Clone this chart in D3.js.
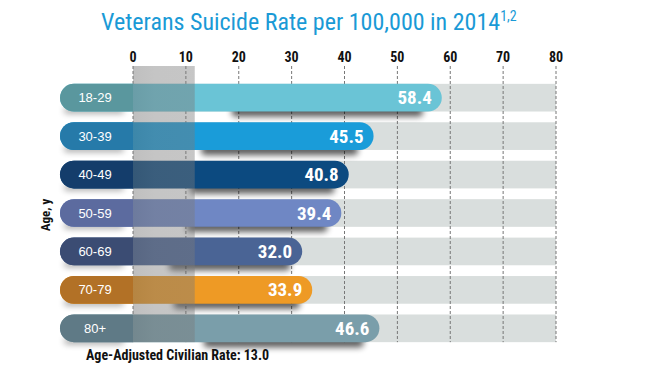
<!DOCTYPE html>
<html lang="en">
<head>
<meta charset="UTF-8">
<title>Veterans Suicide Rate</title>
<script src="https://d3js.org/d3.v7.min.js"></script>
<style>
  body { margin: 0; background: #fff; }
  .cond { font-family: "Liberation Sans Narrow", "Roboto Condensed", "DejaVu Sans Condensed", "Arial Narrow", sans-serif; font-stretch: condensed; }
  .plain { font-family: "Liberation Sans", Arial, sans-serif; }
</style>
</head>
<body>
<svg width="645" height="387"></svg>
<script>
  // data
  const ageGroups = ["18-29", "30-39", "40-49", "50-59", "60-69", "70-79", "80+"];
  const rates = [58.4, 45.5, 40.8, 39.4, 32.0, 33.9, 46.6];
  const barColors = ["#6ac4d6", "#1a9cd9", "#0c4a80", "#6f87c4", "#4a6495", "#ee9a25", "#7a9eaa"];
  const leftColors = ["#5a979e", "#267aa9", "#143d6b", "#5c6b9f", "#3b4c73", "#b27126", "#5f7a86"];
  const xTicks = [0, 10, 20, 30, 40, 50, 60, 70, 80];
  const civilianRate = 13.0;

  const svg = d3.select("svg");
  const defs = svg.append("defs");

  defs.append("filter").attr("id", "blur").attr("x", "-20%").attr("y", "-100%").attr("width", "140%").attr("height", "300%")
    .append("feGaussianBlur").attr("stdDeviation", 3);

  const x = d3.scaleLinear().domain([0, 80]).range([133, 556]);
  const y = d3.scaleBand().domain(ageGroups).range([80, 346]).paddingInner(0.28).paddingOuter(0.1);
  const rowLeft = 60;
  const r = y.bandwidth() / 2;

  // title
  const title = svg.append("text").attr("class", "cond")
    .attr("x", 101).attr("y", 30)
    .attr("fill", "#1a9ad6").style("font-size", "24px");
  title.append("tspan").text("Veterans Suicide Rate per 100,000 in 2014");
  title.append("tspan").attr("dy", -9).style("font-size", "14px").text("1,2");

  // grey row backgrounds
  svg.selectAll(".row").data(ageGroups).enter().append("rect")
    .attr("x", rowLeft + r).attr("y", d => y(d))
    .attr("width", x(80) - rowLeft - r).attr("height", y.bandwidth())
    .attr("fill", "#d9dedd");

  // grid lines
  svg.selectAll(".grid").data(xTicks).enter().append("line")
    .attr("x1", d => x(d)).attr("x2", d => x(d))
    .attr("y1", 66).attr("y2", y(ageGroups[6]) + y.bandwidth())
    .attr("stroke", "#777").attr("stroke-width", 1).attr("stroke-dasharray", "3,2");

  // tick labels
  svg.selectAll(".tick").data(xTicks).enter().append("text")
    .attr("class", "cond")
    .attr("x", d => x(d)).attr("y", 62)
    .attr("text-anchor", "middle").style("font-size", "14px").style("font-weight", "bold")
    .attr("fill", "#111").text(d => d);

  const data = ageGroups.map((g, i) => ({ g, v: rates[i], c: barColors[i], lc: leftColors[i] }));

  // shadows
  svg.selectAll(".shadow").data(data).enter().append("rect")
    .attr("x", d => rowLeft + (x(d.v) - rowLeft) * 0.45)
    .attr("y", d => y(d.g) + y.bandwidth() - 5)
    .attr("width", d => (x(d.v) - rowLeft) * 0.5)
    .attr("height", 10).attr("rx", 4)
    .attr("fill", "#000").attr("opacity", 0.65)
    .attr("filter", "url(#blur)");
  svg.selectAll(".shadow2").data(data).enter().append("rect")
    .attr("x", rowLeft + 4)
    .attr("y", d => y(d.g) + y.bandwidth() - 4)
    .attr("width", 60)
    .attr("height", 6).attr("rx", 3)
    .attr("fill", "#000").attr("opacity", 0.35)
    .attr("filter", "url(#blur)");

  // bars
  svg.selectAll(".bar").data(data).enter().append("rect")
    .attr("x", rowLeft).attr("y", d => y(d.g))
    .attr("width", d => x(d.v) - rowLeft).attr("height", y.bandwidth())
    .attr("rx", r).attr("fill", d => d.c);

  // darker left caps
  svg.selectAll(".cap").data(data).enter().append("path")
    .attr("d", d => {
      const top = y(d.g), h = y.bandwidth(), x0 = x(0);
      return `M${x0},${top} H${rowLeft + r} A${r},${r} 0 0 0 ${rowLeft},${top + r} V${top + h - r} A${r},${r} 0 0 0 ${rowLeft + r},${top + h} H${x0} Z`;
    })
    .attr("fill", d => d.lc);

  // civilian rate column overlay
  const colGrad = defs.append("linearGradient").attr("id", "colGrad");
  colGrad.append("stop").attr("offset", "0%").attr("stop-color", "#6a6a6a");
  colGrad.append("stop").attr("offset", "35%").attr("stop-color", "#787878");
  colGrad.append("stop").attr("offset", "100%").attr("stop-color", "#7a7a7a");
  svg.append("rect")
    .attr("x", x(0)).attr("y", 66)
    .attr("width", x(civilianRate) - x(0) - 7)
    .attr("height", y(ageGroups[6]) + y.bandwidth() - 66)
    .attr("fill", "url(#colGrad)").attr("opacity", 0.43);

  // category labels
  svg.selectAll(".cat").data(data).enter().append("text")
    .attr("class", "plain")
    .attr("x", 95).attr("y", d => y(d.g) + y.bandwidth() / 2 + 4.5)
    .attr("text-anchor", "middle").style("font-size", "13px")
    .attr("fill", "#fff").text(d => d.g);

  // value labels
  svg.selectAll(".val").data(data).enter().append("text")
    .attr("class", "cond")
    .attr("x", d => x(d.v) - 10).attr("y", d => y(d.g) + y.bandwidth() / 2 + 6.5)
    .attr("text-anchor", "end").style("font-size", "19px").style("font-weight", "bold")
    .attr("fill", "#fff").text(d => d.v.toFixed(1));

  // axis title
  svg.append("text").attr("class", "cond")
    .attr("transform", "translate(50,215) rotate(-90)")
    .attr("text-anchor", "middle").style("font-size", "13px").style("font-weight", "bold")
    .attr("fill", "#111").text("Age, y");

  svg.append("text").attr("class", "cond")
    .attr("x", 86).attr("y", 360)
    .style("font-size", "14px").style("font-weight", "bold")
    .attr("fill", "#111").text("Age-Adjusted Civilian Rate: 13.0");
</script>
</body>
</html>
